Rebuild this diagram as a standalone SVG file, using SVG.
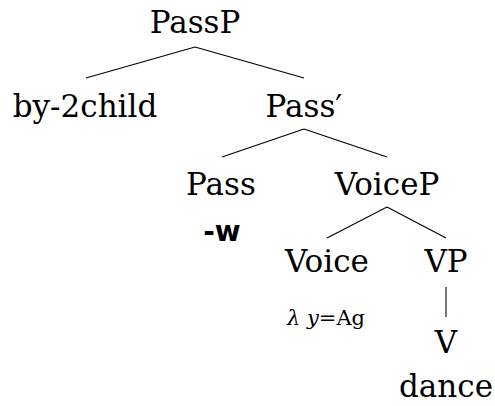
<svg xmlns="http://www.w3.org/2000/svg" width="495" height="406" viewBox="0 0 495 406">
  <style>
    .lbl { font-family: "DejaVu Serif", "Liberation Serif", serif; font-size: 31px; fill: #000; text-anchor: middle; }
    .sub { font-family: "DejaVu Serif", "Liberation Serif", serif; font-size: 21px; fill: #000; }
    .bold { font-family: "DejaVu Sans", "Liberation Sans", sans-serif; font-size: 28px; font-weight: bold; fill: #000; text-anchor: middle; }
    .edge { stroke: #000; stroke-width: 1.1; fill: none; }
  </style>
  <rect width="495" height="406" fill="#fff"/>
  <g id="connectors">
    <path class="edge" d="M195,47 L86,78 M195,47 L304,78"/>
    <path class="edge" d="M304,129 L222,157 M304,129 L387,157"/>
    <path class="edge" d="M387,207 L327,238 M387,207 L446,238"/>
    <path class="edge" d="M446,287 L446,317"/>
  </g>
  <g id="PassP"><text class="lbl" x="195" y="33">PassP</text></g>
  <g id="by-2child"><text class="lbl" x="85" y="117">by-2child</text></g>
  <g id="PassBar"><text class="lbl" x="304" y="117">Pass′</text></g>
  <g id="Pass">
    <text class="lbl" x="221" y="195">Pass</text>
    <text class="bold" x="222" y="241">-w</text>
  </g>
  <g id="VoiceP"><text class="lbl" x="387" y="195">VoiceP</text></g>
  <g id="Voice">
    <text class="lbl" x="327" y="272">Voice</text>
    <text class="sub" x="287" y="325"><tspan font-style="italic">λ y</tspan>=Ag</text>
  </g>
  <g id="VP"><text class="lbl" x="446" y="272">VP</text></g>
  <g id="V">
    <text class="lbl" x="446" y="353">V</text>
    <text class="lbl" x="446" y="397">dance</text>
  </g>
</svg>
